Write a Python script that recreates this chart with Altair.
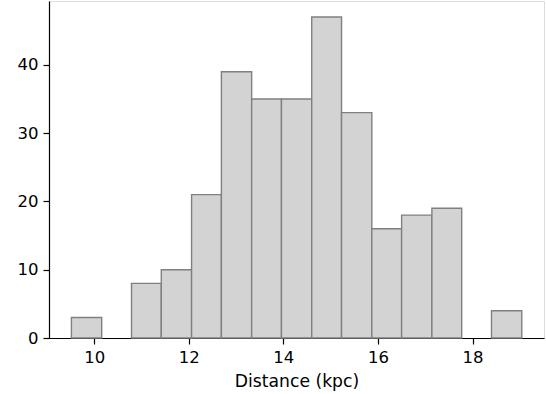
import altair as alt
import pandas as pd

bin_start = [9.52, 10.16, 10.79, 11.42, 12.06, 12.69, 13.33, 13.96, 14.60, 15.23, 15.87, 16.50, 17.14, 17.77, 18.40]
bin_end = [10.16, 10.79, 11.42, 12.06, 12.69, 13.33, 13.96, 14.60, 15.23, 15.87, 16.50, 17.14, 17.77, 18.40, 19.04]
counts = [3, 0, 8, 10, 21, 39, 35, 35, 47, 33, 16, 18, 19, 0, 4]

x_ticks = [10, 12, 14, 16, 18]
y_ticks = [0, 10, 20, 30, 40]

df = pd.DataFrame({"start": bin_start, "end": bin_end, "count": counts})
df = df[df["count"] > 0]

FONT = "DejaVu Sans"

chart = alt.Chart(df).mark_rect(
    fill="#d3d3d3", stroke="#808080", strokeWidth=1.4
).encode(
    x=alt.X("start:Q",
            scale=alt.Scale(domain=[9.046, 19.51], nice=False, zero=False),
            axis=alt.Axis(values=x_ticks, title="Distance (kpc)", grid=False,
                          tickSize=6, tickWidth=1.2, domainWidth=1.2, labelPadding=5, titlePadding=7,
                          labelFontSize=16.5, titleFontSize=17.2, labelFont=FONT, titleFont=FONT,
                          labelColor="black", titleColor="black", titleFontWeight="normal",
                          domainColor="black", tickColor="black", labelFlush=False)),
    x2="end:Q",
    y=alt.Y("count:Q",
            scale=alt.Scale(domain=[0, 49.35], nice=False),
            axis=alt.Axis(values=y_ticks, title=None, grid=False,
                          tickSize=6, tickWidth=1.2, domainWidth=1.2, labelPadding=5,
                          labelFontSize=16.5, labelFont=FONT, labelColor="black",
                          domainColor="black", tickColor="black", labelFlush=False)),
    y2=alt.datum(0),
).properties(
    width=495, height=337,
    autosize=alt.AutoSizeParams(type="none"),
    padding={"left": 49, "top": 1, "right": 2, "bottom": 56},
).configure_view(
    stroke="black", strokeWidth=1.3
).configure(background="white")

chart.save("out.html", embed_options={"renderer": "svg", "actions": False})
